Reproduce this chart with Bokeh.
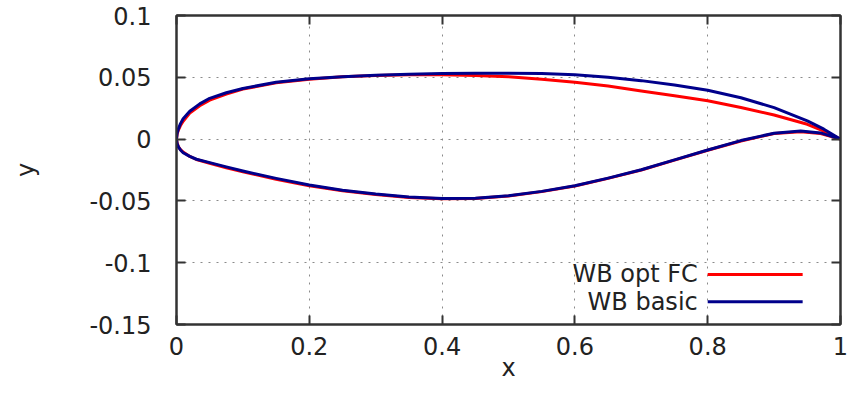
from bokeh.plotting import figure
from bokeh.models import Range1d, LinearAxis, FixedTicker, Label
from bokeh.embed import file_html
from bokeh.resources import INLINE

# ---- data ----
series_names = ["WB opt FC", "WB basic"]
series_colors = ["#ff0000", "#00008b"]

opt_upper_x = [0.0, 0.001, 0.003, 0.006, 0.01, 0.02, 0.035, 0.05, 0.075, 0.1, 0.15, 0.2, 0.25, 0.3, 0.35,
               0.4, 0.45, 0.5, 0.55, 0.6, 0.65, 0.7, 0.75, 0.8, 0.85, 0.9, 0.95, 0.975, 1.0]
opt_upper_y = [0.0, 0.0042, 0.0075, 0.011, 0.0145, 0.021, 0.027, 0.0315, 0.0365, 0.0405, 0.0455, 0.0485,
               0.0505, 0.0515, 0.052, 0.052, 0.0515, 0.0505, 0.0485, 0.046, 0.043, 0.039, 0.035, 0.031,
               0.0255, 0.0195, 0.012, 0.0065, 0.0]
opt_lower_x = [0.0, 0.001, 0.003, 0.006, 0.01, 0.02, 0.03, 0.05, 0.075, 0.1, 0.15, 0.2, 0.25, 0.3, 0.35,
               0.4, 0.45, 0.5, 0.55, 0.6, 0.65, 0.7, 0.75, 0.8, 0.85, 0.9, 0.94, 0.97, 1.0]
opt_lower_y = [0.0, -0.0035, -0.0062, -0.0085, -0.0105, -0.0140, -0.0165, -0.0195, -0.0232, -0.0265,
               -0.0325, -0.0378, -0.0418, -0.0448, -0.0472, -0.0483, -0.0480, -0.0460, -0.0425, -0.0380,
               -0.0318, -0.0250, -0.0170, -0.0090, -0.0015, 0.0045, 0.0060, 0.0045, 0.0]

basic_upper_x = [0.0, 0.001, 0.003, 0.006, 0.01, 0.02, 0.035, 0.05, 0.075, 0.1, 0.15, 0.2, 0.25, 0.3, 0.35,
                 0.4, 0.45, 0.5, 0.55, 0.6, 0.65, 0.7, 0.75, 0.8, 0.85, 0.9, 0.95, 0.975, 1.0]
basic_upper_y = [0.0, 0.0048, 0.0085, 0.0125, 0.0165, 0.0225, 0.0285, 0.033, 0.0375, 0.041, 0.046, 0.0488,
                 0.0505, 0.0517, 0.0525, 0.053, 0.0533, 0.0533, 0.053, 0.052, 0.050, 0.0473, 0.0438, 0.0395,
                 0.0335, 0.0255, 0.0148, 0.008, 0.0]
basic_lower_x = [0.0, 0.001, 0.003, 0.006, 0.01, 0.02, 0.03, 0.05, 0.075, 0.1, 0.15, 0.2, 0.25, 0.3, 0.35,
                 0.4, 0.45, 0.5, 0.55, 0.6, 0.65, 0.7, 0.75, 0.8, 0.85, 0.9, 0.94, 0.97, 1.0]
basic_lower_y = [0.0, -0.0038, -0.0065, -0.0088, -0.0110, -0.0140, -0.0163, -0.0190, -0.0225, -0.0258,
                 -0.0318, -0.0372, -0.0414, -0.0445, -0.0468, -0.0480, -0.0478, -0.0458, -0.0423, -0.0378,
                 -0.0316, -0.0248, -0.0168, -0.0088, -0.0012, 0.0048, 0.0065, 0.0050, 0.0]

x_ticks = [0, 0.2, 0.4, 0.6, 0.8, 1.0]
x_tick_labels = ["0", "0.2", "0.4", "0.6", "0.8", "1"]
y_ticks = [-0.15, -0.1, -0.05, 0, 0.05, 0.1]
y_tick_labels = ["-0.15", "-0.1", "-0.05", "0", "0.05", "0.1"]
x_title = "x"
y_title = "y"

# ---- styling ----
FONT = "DejaVu Sans"
FS = "24px"
AX_COLOR = "#333333"
TXT_COLOR = "#222222"

p = figure(width=848, height=384, x_range=Range1d(0, 1), y_range=Range1d(-0.15, 0.1),
           output_backend="svg", toolbar_location=None,
           min_border_left=176, min_border_right=8, min_border_top=15, min_border_bottom=60,
           x_axis_label=x_title, y_axis_label=y_title)
p.outline_line_color = AX_COLOR
p.outline_line_width = 2
p.background_fill_color = "white"
p.border_fill_color = "white"

p.xaxis.ticker = FixedTicker(ticks=x_ticks)
p.yaxis.ticker = FixedTicker(ticks=y_ticks)
p.xaxis.major_label_overrides = {t: l for t, l in zip(x_ticks, x_tick_labels)}
p.yaxis.major_label_overrides = {t: l for t, l in zip(y_ticks, y_tick_labels)}

for ax in (p.xaxis, p.yaxis):
    ax.major_tick_in = 9
    ax.major_tick_out = 0
    ax.minor_tick_in = 0
    ax.minor_tick_out = 0
    ax.axis_line_color = AX_COLOR
    ax.axis_line_width = 2
    ax.major_tick_line_color = AX_COLOR
    ax.major_tick_line_width = 2
    ax.major_label_text_font = FONT
    ax.major_label_text_font_size = FS
    ax.major_label_text_color = TXT_COLOR
    ax.axis_label_text_font = FONT
    ax.axis_label_text_font_size = FS
    ax.axis_label_text_font_style = "normal"
    ax.axis_label_text_color = TXT_COLOR
p.xaxis.major_label_standoff = 12
p.xaxis.axis_label_standoff = -4
p.yaxis.major_label_standoff = 25
p.yaxis.axis_label_standoff = 46

# mirror ticks on top and right
for loc, ticks in (("above", x_ticks), ("right", y_ticks)):
    ax = LinearAxis(ticker=FixedTicker(ticks=ticks))
    ax.major_tick_in = 9
    ax.major_tick_out = 0
    ax.minor_tick_in = 0
    ax.minor_tick_out = 0
    ax.axis_line_color = AX_COLOR
    ax.axis_line_width = 2
    ax.major_tick_line_color = AX_COLOR
    ax.major_tick_line_width = 2
    ax.major_label_text_font_size = "0px"
    ax.major_label_standoff = 0
    ax.major_label_text_alpha = 0
    p.add_layout(ax, loc)

p.xgrid.ticker = FixedTicker(ticks=x_ticks)
p.ygrid.ticker = FixedTicker(ticks=y_ticks)
for g in (p.xgrid, p.ygrid):
    g.grid_line_color = "#8a8a8a"
    g.grid_line_dash = "2 6"
    g.grid_line_width = 1

# ---- curves ----
contours = [
    (opt_upper_x[::-1] + opt_lower_x[1:], opt_upper_y[::-1] + opt_lower_y[1:]),
    (basic_upper_x[::-1] + basic_lower_x[1:], basic_upper_y[::-1] + basic_lower_y[1:]),
]
for (cx, cy), col in zip(contours, series_colors):
    p.line(cx, cy, line_color=col, line_width=3, line_join="round")

# ---- legend (gnuplot style: text right-aligned, sample to the right) ----
leg_text_x = 0.785
leg_line_x0, leg_line_x1 = 0.80, 0.943
leg_rows_y = [-0.1095, -0.1315]
for name, col, ly in zip(series_names, series_colors, leg_rows_y):
    p.add_layout(Label(x=leg_text_x, y=ly, text=name, text_align="right", text_baseline="middle",
                       text_font=FONT, text_font_size=FS, text_color=TXT_COLOR))
    p.line([leg_line_x0, leg_line_x1], [ly, ly], line_color=col, line_width=3)

open("out.html", "w").write(file_html(p, INLINE))
